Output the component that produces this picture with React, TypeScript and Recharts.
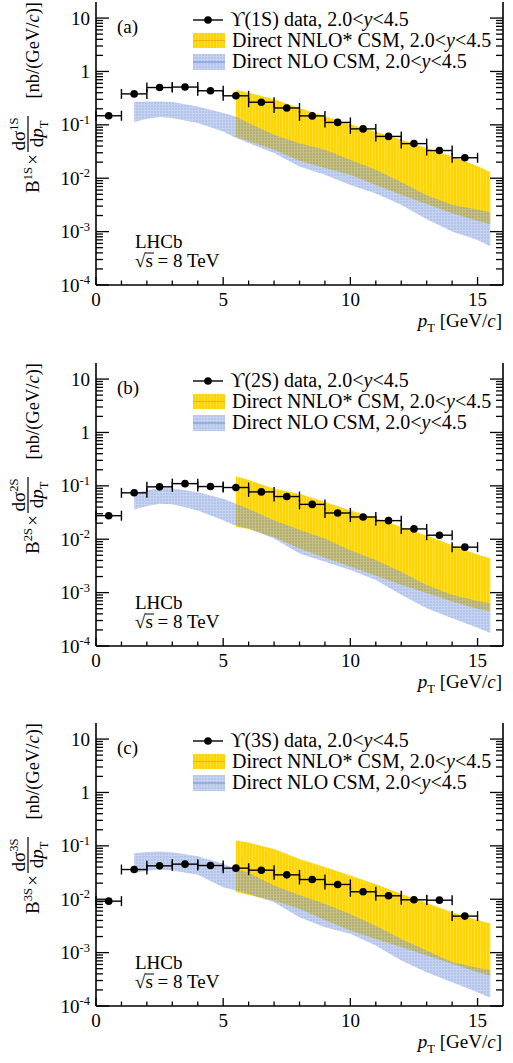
import { ComposedChart, Area, Scatter, ErrorBar, XAxis, YAxis } from 'recharts'

const FONT = '"Liberation Serif", "DejaVu Serif", serif'

// measured points, pT bin centres [GeV/c]
const ptBins = [0.5, 1.5, 2.5, 3.5, 4.5, 5.5, 6.5, 7.5, 8.5, 9.5, 10.5, 11.5, 12.5, 13.5, 14.5]
const binHalfWidth = 0.5
const ups1S = [0.148, 0.38, 0.5, 0.51, 0.435, 0.35, 0.265, 0.207, 0.147, 0.111, 0.084, 0.0607, 0.0445, 0.033, 0.0242]
const ups2S = [0.0276, 0.074, 0.0958, 0.11, 0.097, 0.093, 0.077, 0.063, 0.0449, 0.031, 0.0261, 0.0223, 0.0156, 0.0119, 0.0071]
const ups3S = [0.0092, 0.036, 0.0422, 0.0454, 0.0428, 0.0382, 0.035, 0.0286, 0.0234, 0.0189, 0.0138, 0.0116, 0.00975, 0.0096, 0.00483]

// direct NLO CSM band
const nloPt = [1.5, 2, 2.5, 3, 4, 5, 5.5, 6, 7, 8, 9, 10, 11, 12, 13, 14, 15, 15.5]
const nlo1SLow = [0.113, 0.13, 0.14, 0.134, 0.108, 0.075, 0.0566, 0.0457, 0.0296, 0.0166, 0.0116, 0.0075, 0.0052, 0.0032, 0.0017, 0.001, 0.0007, 0.00053]
const nlo1SHigh = [0.267, 0.275, 0.274, 0.267, 0.221, 0.166, 0.144, 0.108, 0.0653, 0.045, 0.0342, 0.0222, 0.0144, 0.0085, 0.0048, 0.0032, 0.0026, 0.0023]
const nlo2SLow = [0.0362, 0.042, 0.046, 0.045, 0.0347, 0.0226, 0.0178, 0.0158, 0.0103, 0.0054, 0.0038, 0.00265, 0.00173, 0.00091, 0.00051, 0.00033, 0.00022, 0.000175]
const nlo2SHigh = [0.071, 0.083, 0.0906, 0.09, 0.076, 0.0573, 0.046, 0.0373, 0.0226, 0.015, 0.0103, 0.0062, 0.0041, 0.00247, 0.00139, 0.00091, 0.0007, 0.00064]
const nlo3SLow = [0.0312, 0.034, 0.036, 0.0345, 0.0286, 0.0168, 0.0146, 0.0126, 0.0088, 0.0046, 0.003, 0.00225, 0.00136, 0.00071, 0.00043, 0.00028, 0.00018, 0.000143]
const nlo3SHigh = [0.073, 0.077, 0.078, 0.076, 0.064, 0.046, 0.037, 0.0312, 0.018, 0.012, 0.0082, 0.0053, 0.0032, 0.0018, 0.0011, 0.00067, 0.00052, 0.00047]

// direct NNLO* CSM band
const nnloPt = [5.5, 6, 7, 8, 9, 10, 11, 12, 13, 14, 15, 15.5]
const nnlo1SLow = [0.06, 0.05, 0.034, 0.0213, 0.0155, 0.0116, 0.0075, 0.0049, 0.0033, 0.0022, 0.0016, 0.00138]
const nnlo1SHigh = [0.454, 0.4, 0.3, 0.206, 0.145, 0.103, 0.074, 0.0526, 0.037, 0.0256, 0.017, 0.013]
const nnlo2SLow = [0.017, 0.0155, 0.011, 0.0067, 0.0045, 0.0031, 0.0021, 0.0014, 0.00098, 0.00068, 0.0005, 0.00045]
const nnlo2SHigh = [0.151, 0.13, 0.088, 0.071, 0.05, 0.0347, 0.025, 0.017, 0.0118, 0.0077, 0.0052, 0.0044]
const nnlo3SLow = [0.0136, 0.012, 0.0095, 0.0066, 0.0041, 0.0026, 0.0018, 0.00127, 0.00088, 0.00062, 0.00043, 0.00037]
const nnlo3SHigh = [0.126, 0.115, 0.0877, 0.057, 0.04, 0.0278, 0.019, 0.0126, 0.0085, 0.0057, 0.0041, 0.0035]

const yDecades = [1e-4, 1e-3, 1e-2, 1e-1, 1, 10]
const yDecadeLabels = [['10', '-4'], ['10', '-3'], ['10', '-2'], ['10', '-1'], ['1', ''], ['10', '']]
const yMinorSteps = [2, 3, 4, 5, 6, 7, 8, 9]
const xTicks = [0, 1, 2, 3, 4, 5, 6, 7, 8, 9, 10, 11, 12, 13, 14, 15]
const xLabelTicks = [0, 5, 10, 15]

const yTicks = yDecades
  .flatMap((d) => [d, ...yMinorSteps.map((m) => m * d)])
  .filter((v) => v < 20)

const decadeIndex = (v: number) =>
  yDecades.findIndex((d) => Math.abs(Math.log10(v) - Math.log10(d)) < 1e-6)

const LeftTick = ({ x, y, payload }: any) => {
  const i = decadeIndex(payload.value)
  return (
    <g>
      <line x1={x} x2={x + (i >= 0 ? 13 : 7)} y1={y} y2={y} stroke="#000" strokeWidth={1.3} />
      {i >= 0 && (
        <text x={x - 6} y={y + 6.5} textAnchor="end" fontFamily={FONT} fontSize={19} fill="#000">
          {yDecadeLabels[i][0]}
          {yDecadeLabels[i][1] && (
            <tspan dy={-7.5} fontSize={12.5}>
              {yDecadeLabels[i][1]}
            </tspan>
          )}
        </text>
      )}
    </g>
  )
}

const RightTick = ({ x, y, payload }: any) => {
  const i = decadeIndex(payload.value)
  return <line x1={x} x2={x - (i >= 0 ? 13 : 7)} y1={y} y2={y} stroke="#000" strokeWidth={1.3} />
}

const BottomTick = ({ x, y, payload }: any) => {
  const major = xLabelTicks.includes(payload.value)
  return (
    <g>
      <line x1={x} x2={x} y1={y} y2={y - (major ? 8 : 4.5)} stroke="#000" strokeWidth={1.3} />
      {major && (
        <text x={x} y={y + 21} textAnchor="middle" fontFamily={FONT} fontSize={19} fill="#000">
          {payload.value}
        </text>
      )}
    </g>
  )
}

const Dot = (props: any) => <circle cx={props.cx} cy={props.cy} r={3.8} fill="#000" />

function YTitle({ state }: { state: string }) {
  return (
    <g transform="translate(39, 3) rotate(-90)" fontFamily={FONT} fill="#000">
      <text x={0} y={0} textAnchor="end" fontSize={18.5}>
        [nb/(GeV/<tspan fontStyle="italic">c</tspan>)]
      </text>
      <text x={-132} y={-14} textAnchor="middle" fontSize={19}>
        dσ<tspan dy={-7.5} fontSize={12.5}>{state}</tspan>
      </text>
      <line x1={-150} x2={-114} y1={-11} y2={-11} stroke="#000" strokeWidth={1.2} />
      <text x={-132} y={4} textAnchor="middle" fontSize={19}>
        d<tspan fontStyle="italic">p</tspan>
        <tspan dy={5} fontSize={12.5}>T</tspan>
      </text>
      <text x={-152} y={0} textAnchor="end" fontSize={19}>×</text>
      <text x={-165} y={0} textAnchor="end" fontSize={19}>
        B<tspan dy={-7.5} fontSize={12.5}>{state}</tspan>
      </text>
    </g>
  )
}

function Panel(props: {
  tag: string
  state: string
  values: number[]
  nloLow: number[]
  nloHigh: number[]
  nnloLow: number[]
  nnloHigh: number[]
  top: number
}) {
  const { tag, state, values, nloLow, nloHigh, nnloLow, nnloHigh, top } = props
  const id = state.toLowerCase()
  const rows = nloPt.map((x, i) => {
    const j = nnloPt.indexOf(x)
    return {
      x,
      nlo: [nloLow[i], nloHigh[i]],
      nnlo: j >= 0 ? [nnloLow[j], nnloHigh[j]] : null,
    }
  })
  const points = ptBins.map((x, i) => ({ x, y: values[i], xerr: binHalfWidth }))

  return (
    <div style={{ position: 'absolute', left: 0, top }}>
      <ComposedChart width={513} height={343} data={rows} margin={{ top: 3, right: 0, bottom: 0, left: 0 }}>
        <defs>
          <pattern id={`nlo-${id}`} width={3} height={3} patternUnits="userSpaceOnUse">
            <rect width={3} height={3} fill="#6e8cd7" />
            <path d="M0 0.5H3M0.5 0V3" stroke="#90a8e2" strokeWidth={1} />
          </pattern>
          <pattern id={`nnlo-${id}`} width={3} height={3} patternUnits="userSpaceOnUse">
            <rect width={3} height={3} fill="#ffd400" />
            <rect width={1} height={3} fill="#ffdf3c" />
          </pattern>
        </defs>
        <XAxis
          dataKey="x"
          type="number"
          domain={[0, 16]}
          ticks={xTicks}
          interval={0}
          height={57}
          tickSize={0}
          tickMargin={0}
          tickLine={false}
          tick={<BottomTick />}
          axisLine={{ stroke: '#000', strokeWidth: 1.6 }}
        />
        <XAxis
          xAxisId="top"
          orientation="top"
          type="number"
          domain={[0, 16]}
          height={0}
          tick={false}
          tickLine={false}
          axisLine={{ stroke: '#000', strokeWidth: 1.6 }}
        />
        <YAxis
          type="number"
          scale="log"
          domain={[1e-4, 20]}
          allowDataOverflow
          ticks={yTicks}
          interval={0}
          width={96}
          tickSize={0}
          tickMargin={0}
          tickLine={false}
          tick={<LeftTick />}
          axisLine={{ stroke: '#000', strokeWidth: 1.6 }}
        />
        <YAxis
          yAxisId="r"
          orientation="right"
          type="number"
          scale="log"
          domain={[1e-4, 20]}
          allowDataOverflow
          ticks={yTicks}
          interval={0}
          width={10}
          tickSize={0}
          tickMargin={0}
          tickLine={false}
          tick={<RightTick />}
          axisLine={{ stroke: '#000', strokeWidth: 1.6 }}
        />
        <Area
          dataKey="nnlo"
          type="linear"
          stroke="none"
          fill={`url(#nnlo-${id})`}
          fillOpacity={1}
          dot={false}
          activeDot={false}
          isAnimationActive={false}
        />
        <Area
          dataKey="nlo"
          type="linear"
          stroke="none"
          fill={`url(#nlo-${id})`}
          fillOpacity={0.52}
          dot={false}
          activeDot={false}
          isAnimationActive={false}
        />
        <Scatter data={points} dataKey="y" shape={<Dot />} isAnimationActive={false}>
          <ErrorBar dataKey="xerr" direction="x" width={5} stroke="#000" strokeWidth={1.4} />
        </Scatter>

        <YTitle state={state} />
        <text x={502} y={328} textAnchor="end" fontFamily={FONT} fontSize={19} fill="#000">
          <tspan fontStyle="italic">p</tspan>
          <tspan dy={5} fontSize={12.5}>T</tspan>
          <tspan dy={-5}> [GeV/</tspan>
          <tspan fontStyle="italic">c</tspan>]
        </text>

        <g fontFamily={FONT} fontSize={19} fill="#000">
          <text x={117} y={34}>{tag}</text>
          <text x={135} y={249}>LHCb</text>
          <text x={135} y={268}>√s = 8 TeV</text>
          <line x1={145} x2={154} y1={254} y2={254} stroke="#000" strokeWidth={1} />
        </g>

        <g fontFamily={FONT} fontSize={20} fill="#000">
          <line x1={193} x2={223} y1={21} y2={21} stroke="#000" strokeWidth={1.4} />
          <circle cx={208} cy={21} r={3.8} fill="#000" />
          <text x={230} y={27}>
            ϒ({state}) data, 2.0&lt;<tspan fontStyle="italic">y</tspan>&lt;4.5
          </text>

          <rect x={193} y={34} width={32} height={15} fill={`url(#nnlo-${id})`} />
          <line x1={193} x2={225} y1={41.5} y2={41.5} stroke="#f0b400" strokeWidth={1} />
          <text x={232} y={48}>
            Direct NNLO* CSM, 2.0&lt;<tspan fontStyle="italic">y</tspan>&lt;4.5
          </text>

          <rect x={193} y={55} width={32} height={16} fill={`url(#nlo-${id})`} fillOpacity={0.52} />
          <line x1={193} x2={225} y1={63} y2={63} stroke="#6e8cd7" strokeWidth={1} />
          <text x={232} y={69}>
            Direct NLO CSM, 2.0&lt;<tspan fontStyle="italic">y</tspan>&lt;4.5
          </text>
        </g>
      </ComposedChart>
    </div>
  )
}

export default function App() {
  return (
    <div style={{ position: 'absolute', left: 0, top: 0, width: 513, height: 1063, background: '#fff' }}>
      <Panel tag="(a)" state="1S" values={ups1S} nloLow={nlo1SLow} nloHigh={nlo1SHigh} nnloLow={nnlo1SLow} nnloHigh={nnlo1SHigh} top={-1} />
      <Panel tag="(b)" state="2S" values={ups2S} nloLow={nlo2SLow} nloHigh={nlo2SHigh} nnloLow={nnlo2SLow} nnloHigh={nnlo2SHigh} top={360} />
      <Panel tag="(c)" state="3S" values={ups3S} nloLow={nlo3SLow} nloHigh={nlo3SHigh} nnloLow={nnlo3SLow} nnloHigh={nnlo3SHigh} top={720} />
    </div>
  )
}
